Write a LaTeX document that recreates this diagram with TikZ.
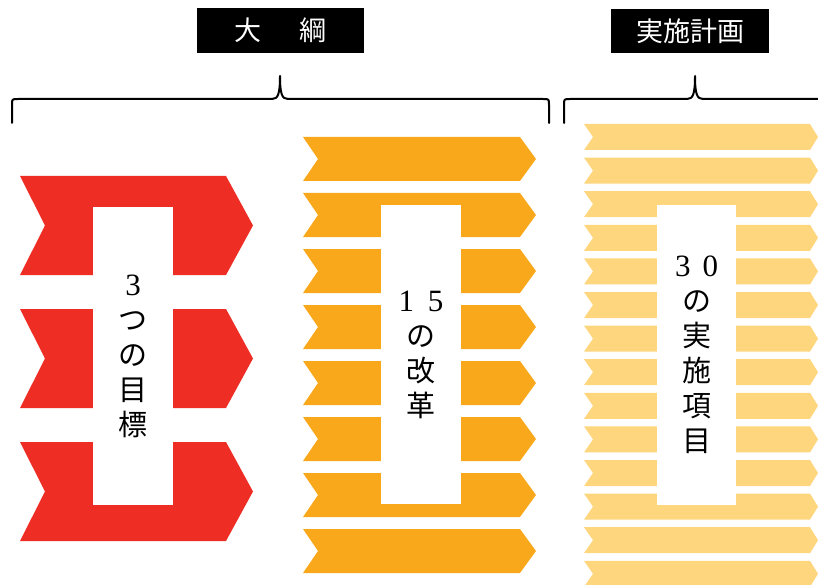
\documentclass[tikz,border=0pt]{standalone}
\usepackage{fontspec}
\newfontfamily\cjk{Noto Sans CJK JP}
\newfontfamily\dgt{Liberation Serif}
\definecolor{redc}{HTML}{EE2D24}
\definecolor{orangec}{HTML}{F9A81C}
\definecolor{yellowc}{HTML}{FDD67E}
\newcommand\chevron[7]{\fill[#1] (#2,#6) -- (#4,#6) -- ({#4+#5},{#6+#7/2}) -- (#4,{#6+#7}) -- (#2,{#6+#7}) -- ({#2+#3},{#6+#7/2}) -- cycle;}
\newcommand\dg[1]{{\dgt\fontsize{31}{35}\selectfont #1}}
\tikzset{
 whitebox/.style={fill=white, inner sep=0pt, align=center, minimum width=80pt, font=\fontsize{29}{35}\selectfont\cjk, text=black},
 header/.style={fill=black, text=white, inner sep=0pt, font=\fontsize{27}{30}\selectfont\cjk},
 bracepen/.style={line width=2pt, draw=black, line cap=round, line join=round}
}
\begin{document}
\begin{tikzpicture}[x=1pt,y=-1pt]
\useasboundingbox (0,0) rectangle (818,585);
% headers
\node[header, minimum width=167pt, minimum height=45pt] (h1) at (280.5,30.5) {大\hspace{38pt}綱};
\node[header, minimum width=158pt, minimum height=44pt] (h2) at (690,31) {実施計画};
% braces
\draw[bracepen] (12,123) -- (12,105) .. controls (12,99) .. (18,99) -- (272,99)
  .. controls (278,99) and (280,94) .. (280,76)
  .. controls (280,94) and (282,99) .. (288,99) -- (543,99)
  .. controls (549,99) .. (549,105) -- (549,123);
\draw[bracepen] (564,123) -- (564,105) .. controls (564,99) .. (570,99) -- (687,99)
  .. controls (693,99) and (695,94) .. (695,76)
  .. controls (695,94) and (697,99) .. (703,99) -- (818,99);
% red chevrons
\foreach \i in {0,1,2} {\chevron{redc}{20}{25}{226}{27}{176+133*\i}{99}}
% orange chevrons
\foreach \i in {0,...,7} {\chevron{orangec}{303}{15}{520}{16}{137+56*\i}{44}}
% yellow chevrons
\foreach \i in {0,...,13} {\chevron{yellowc}{584}{9}{810}{8}{124+33.6*\i}{26}}
% white text panels
\node[whitebox, minimum height=298pt] (t1) at (133,356) {\dg{3}\\つ\\の\\目\\標};
\node[whitebox, minimum height=299pt] (t2) at (421,354.5) {\dg{1\hspace{14pt}5}\\の\\改\\革};
\node[whitebox, minimum width=79pt, minimum height=300pt] (t3) at (696.5,355) {\dg{3\hspace{12pt}0}\\の\\実\\施\\項\\目};
\end{tikzpicture}
\end{document}
